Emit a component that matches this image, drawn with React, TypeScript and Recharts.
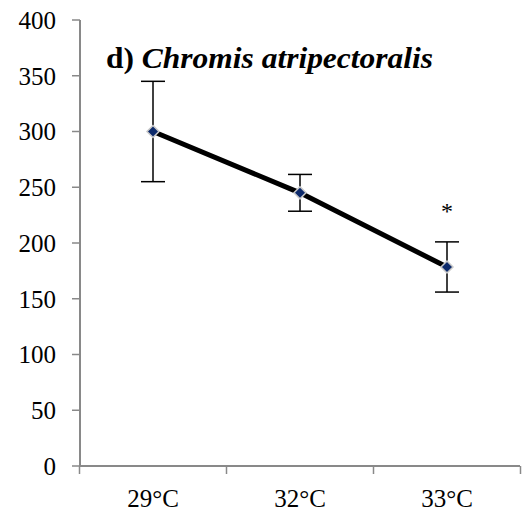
import { ErrorBar, Line, LineChart, ReferenceDot, XAxis, YAxis } from "recharts";

const temps = ["29°C", "32°C", "33°C"];
const means = [300, 245, 178.5];
const errs = [45, 16.5, 22.5];
const yTicks = [0, 50, 100, 150, 200, 250, 300, 350, 400];
// significance marks: category + height where the star sits
const sigMarks = [{ temp: "33°C", y: 229, mark: "*" }];

const GREY = "#898989";
const FONT = "'Liberation Serif', 'Times New Roman', serif";
const HALF_BAND = 73.5;
const TICK_SIZE = 8;
const TICK_MARGIN = 15;

const data = temps.map((t, i) => ({ temp: t, mean: means[i], err: errs[i] }));

const Diamond = (props: any) => {
  const { cx, cy } = props;
  if (cx == null || cy == null) return null;
  const r = 6;
  return (
    <polygon
      points={`${cx},${cy - r} ${cx + r},${cy} ${cx},${cy + r} ${cx - r},${cy}`}
      fill="#0d2a6b"
      stroke="#c9c9c9"
      strokeWidth={1.5}
    />
  );
};

// label centred in its category, tick marks on the category boundaries
const CatTick = (props: any) => {
  const { x, y, payload, index, visibleTicksCount } = props;
  const axisY = y - TICK_SIZE - TICK_MARGIN;
  const last = index === visibleTicksCount - 1;
  return (
    <g>
      <line x1={x - HALF_BAND} x2={x - HALF_BAND} y1={axisY} y2={axisY + TICK_SIZE} stroke={GREY} strokeWidth={1.5} />
      {last && (
        <line x1={x + HALF_BAND} x2={x + HALF_BAND} y1={axisY} y2={axisY + TICK_SIZE} stroke={GREY} strokeWidth={1.5} />
      )}
      <text x={x} y={y} dy="0.71em" textAnchor="middle" fontFamily={FONT} fontSize={25} fill="#000">
        {payload.value}
      </text>
    </g>
  );
};

export default function App() {
  return (
    <div style={{ position: "absolute", left: 0, top: 0, width: 522, height: 513, background: "#fff" }}>
      <LineChart width={522} height={513} data={data} margin={{ top: 20, right: 2, bottom: 0, left: 0 }}>
        <XAxis
          dataKey="temp"
          padding={{ left: 73, right: 73 }}
          tickLine={false}
          tickSize={TICK_SIZE}
          tickMargin={TICK_MARGIN}
          axisLine={{ stroke: GREY, strokeWidth: 2 }}
          tick={<CatTick />}
          height={47}
        />
        <XAxis xAxisId="top" orientation="top" height={0} tick={false} tickLine={false} axisLine={{ stroke: GREY, strokeWidth: 2 }} />
        <YAxis
          domain={[0, 400]}
          ticks={yTicks}
          width={80}
          tickSize={8}
          tickMargin={16}
          axisLine={{ stroke: GREY, strokeWidth: 2 }}
          tickLine={{ stroke: GREY, strokeWidth: 1.5 }}
          tick={{ fontFamily: FONT, fontSize: 25, fill: "#000" }}
        />
        <YAxis
          yAxisId="right"
          orientation="right"
          domain={[0, 400]}
          width={0}
          tick={false}
          tickLine={false}
          axisLine={{ stroke: GREY, strokeWidth: 2 }}
        />
        <Line
          dataKey="mean"
          stroke="#000"
          strokeWidth={5}
          dot={<Diamond />}
          activeDot={false}
          isAnimationActive={false}
        >
          <ErrorBar dataKey="err" width={12} stroke="#000" strokeWidth={1.5} isAnimationActive={false} />
        </Line>
        {sigMarks.map((s) => (
          <ReferenceDot
            key={s.temp}
            x={s.temp}
            y={s.y}
            r={0}
            label={{ value: s.mark, position: "center", fontFamily: FONT, fontSize: 24, fill: "#000" }}
          />
        ))}
      </LineChart>
      <svg width={522} height={513} style={{ position: "absolute", left: 0, top: 0, pointerEvents: "none" }}>
        <text
          x={106}
          y={68}
          fontFamily={FONT}
          fontSize={29}
          fontWeight="bold"
          fill="#000"
          textLength={327}
          lengthAdjust="spacingAndGlyphs"
        >
          d) <tspan fontStyle="italic">Chromis atripectoralis</tspan>
        </text>
      </svg>
    </div>
  );
}
